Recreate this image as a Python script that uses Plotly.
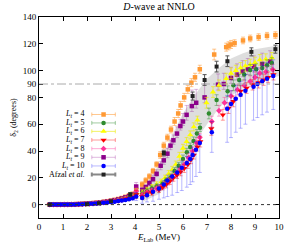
import plotly.graph_objects as go

# ---------------- data ----------------
E_low = [0.45, 0.6, 0.75, 0.9, 1.05, 1.2, 1.35, 1.5, 1.65, 1.8, 1.95, 2.1, 2.25,
         2.4, 2.55, 2.7, 2.85, 3.0, 3.15, 3.3, 3.45, 3.6, 3.75, 3.9, 4.05]
err_low = [0.2, 0.2, 0.2, 0.2, 0.2, 0.2, 0.3, 0.3, 0.3, 0.3, 0.4, 0.4, 0.4,
           0.5, 0.5, 0.5, 0.6, 0.6, 0.7, 0.7, 0.8, 0.9, 1.0, 1.2, 3.0]

# L_t = 4
d4_low = [0, 0, 0, 0.05, 0.1, 0.15, 0.2, 0.3, 0.4, 0.55, 0.7, 0.9, 1.15, 1.4, 1.75, 2.1, 2.55, 3.0, 3.55, 4.2, 4.9, 5.8, 6.8, 8.0, 11]
E4_high = [4.3, 4.45, 4.6, 4.75, 4.9, 5.05, 5.2, 5.35, 5.5, 5.65, 5.8, 5.9, 6.05, 6.2, 6.35, 6.5, 6.7, 7.3, 7.8, 7.9, 8.0, 8.15, 8.5, 8.8, 9.15, 9.5, 9.85]
d4_high = [15, 18, 21, 25, 30, 37, 44, 50, 56, 62, 68, 74, 80, 86, 91, 95, 101, 112, 117.5, 118.5, 119.5, 120.5, 122.5, 124, 125, 126, 126.5]
e4_high = [2, 2, 2, 2, 2, 2.5, 2.5, 2.5, 2.5, 3, 3, 3, 3, 3, 3, 3, 3, 4, 3, 3, 3, 2.5, 2.5, 2.5, 2.5, 2.5, 2.5]

# L_t = 5
d5_low = [0, 0, 0, 0, 0.05, 0.1, 0.15, 0.2, 0.3, 0.4, 0.55, 0.7, 0.9, 1.1, 1.35, 1.65, 1.95, 2.35, 2.75, 3.2, 3.75, 4.35, 5.0, 5.8, 8]
E5_high = [4.3, 4.5, 4.7, 4.9, 5.14, 5.3, 5.48, 5.65, 5.82, 6.0, 6.16, 6.3, 6.44, 6.58, 6.71, 7.08, 7.4, 7.86, 8.1, 8.34, 8.55, 8.8, 9.05, 9.3, 9.5, 9.7]
d5_high = [8, 10, 12, 13.5, 15.4, 18, 20.3, 25, 29, 34, 39, 43, 47.5, 53, 57.4, 68, 78, 84.6, 89, 93, 97, 100.5, 101, 102, 104, 105.6]
e5_high = [2, 2, 2, 2, 2, 2, 2.5, 2.5, 2.5, 3, 3, 3, 3, 3, 3, 4, 4, 4, 4, 4, 4, 4, 4, 4, 4, 4]

# L_t = 6
d6_low = [0, 0, 0, 0.05, 0.1, 0.1, 0.2, 0.25, 0.35, 0.45, 0.6, 0.75, 0.95, 1.2, 1.45, 1.75, 2.1, 2.5, 2.95, 3.45, 4.0, 4.7, 5.4, 6.3, 9]
E6_high = [4.3, 4.5, 4.7, 4.9, 5.1, 5.25, 5.4, 5.55, 5.7, 5.85, 6.0, 6.15, 6.3, 6.45, 6.6, 6.98, 7.25, 7.5, 7.8, 8.0, 8.2, 8.4, 8.6, 8.8, 9.0, 9.2, 9.45, 9.7]
d6_high = [9, 11, 13, 15, 17, 20, 23, 26, 30, 36, 42, 47, 52, 58, 63, 76, 84, 89, 94, 98, 100, 102, 103.5, 104.5, 106, 108, 108.5, 109.5]
e6_high = [2, 2, 2, 2, 2, 2, 2.5, 2.5, 2.5, 3, 3, 3, 3, 3, 3, 4, 4, 4, 4, 4, 4, 4, 4, 4, 4, 4, 4, 4]

# L_t = 7
d7_low = [0, 0, 0, 0, 0.05, 0.1, 0.15, 0.2, 0.3, 0.4, 0.5, 0.65, 0.8, 1.0, 1.25, 1.5, 1.8, 2.15, 2.5, 2.95, 3.4, 4.0, 4.6, 5.3, 7.5]
E7_high = [4.3, 4.5, 4.7, 5.0, 5.15, 5.3, 5.45, 5.6, 5.75, 5.9, 6.05, 6.2, 6.33, 6.45, 6.6, 6.72, 7.18, 7.66, 7.9, 8.1, 8.4, 8.65, 8.9, 9.15, 9.36, 9.55, 9.77]
d7_high = [6, 8, 9, 11, 13, 15, 17.5, 20, 22, 24.5, 27, 30, 33.5, 37, 43, 47, 56.7, 67, 72, 77, 84.6, 87, 89.5, 91, 93, 95, 97]
e7_high = [2, 2, 2, 2, 2, 2.5, 2.5, 2.5, 2.5, 3, 3, 3, 3, 3, 3, 4, 5, 4, 4, 4, 4, 4, 4, 4, 4, 4, 4]

# L_t = 8
d8_low = [0, 0, 0, 0, 0.05, 0.1, 0.15, 0.2, 0.3, 0.4, 0.5, 0.65, 0.85, 1.05, 1.3, 1.55, 1.85, 2.2, 2.6, 3.05, 3.55, 4.15, 4.8, 5.5, 10]
E8_high = [4.3, 4.5, 4.7, 4.9, 5.05, 5.2, 5.38, 5.55, 5.72, 5.89, 6.05, 6.23, 6.4, 6.57, 6.7, 7.2, 7.5, 7.73, 8.0, 8.27, 8.55, 8.8, 9.0, 9.2, 9.45, 9.74]
d8_high = [7, 9, 10.5, 12, 13, 14.5, 17, 20, 23, 26.5, 30, 35, 40, 46, 50, 62, 70, 76, 81, 85.8, 89, 92, 95, 98, 99, 100.7]
e8_high = [2, 2, 2, 2, 2, 2.5, 2.5, 2.5, 2.5, 3, 3, 3, 3, 3, 3, 4, 4, 4, 4, 4, 4, 4, 4, 4, 4, 4]

# L_t = 9
d9_low = [0, 0, 0, 0.05, 0.1, 0.15, 0.2, 0.3, 0.4, 0.5, 0.65, 0.85, 1.05, 1.3, 1.6, 1.95, 2.35, 2.8, 3.3, 3.9, 4.6, 5.4, 6.3, 7.4, 13.5]
E9_high = [4.3, 4.45, 4.6, 4.75, 4.9, 5.07, 5.2, 5.35, 5.48, 5.6, 5.75, 5.89, 6.0, 6.15, 6.37, 6.55, 6.9, 7.46, 7.7, 8.0, 8.25, 8.48, 8.7, 8.95, 9.3, 9.63]
d9_high = [11, 13, 16, 19, 23, 29, 33, 38, 44, 48, 53, 58.6, 62, 67, 73.5, 76, 80, 89.5, 90, 94.5, 97, 99.4, 101, 103, 105, 106.8]
e9_up = [2, 2, 2, 3, 3, 3, 3, 4, 4, 4, 5, 5, 6, 7, 12, 10, 10, 8, 8, 8, 8, 8, 8, 8, 8, 8]
e9_dn = [2, 2, 2, 2, 2, 3, 3, 3, 3, 3, 3, 3, 3, 4, 4, 4, 4, 4, 4, 4, 4, 4, 4, 4, 4, 4]

# L_t = 10
d10_low = [0, 0, 0, 0, 0.05, 0.1, 0.1, 0.15, 0.25, 0.35, 0.45, 0.55, 0.7, 0.85, 1.05, 1.3, 1.55, 1.85, 2.2, 2.6, 3.0, 3.5, 4.05, 4.7, 6]
E10_high = [4.3, 4.5, 4.75, 5.0, 5.2, 5.35, 5.55, 5.76, 5.95, 6.16, 6.3, 6.4, 6.54, 6.7, 7.2, 7.84, 8.0, 8.2, 8.4, 8.6, 8.94, 9.1, 9.3, 9.5, 9.76]
d10_high = [5, 7, 9.5, 12, 15, 18, 21, 24, 27.5, 31, 34, 37, 41, 46, 54, 71.5, 75, 79, 82, 85, 88, 90, 92, 94, 96]
e10_up = [2, 2, 3, 3, 3, 4, 4, 4, 5, 5, 5, 6, 6, 6, 8, 10, 10, 10, 10, 12, 12, 12, 12, 12, 12]
e10_dn = [4, 5, 7, 8, 10, 12, 14, 15, 17, 18, 19, 20, 20, 22, 15, 25, 25, 25, 25, 25, 25, 25, 25, 25, 25]

# Afzal et al.
afzal_E = [0.45, 2.0, 2.5, 3.0, 3.8, 5.2, 6.4, 6.9, 7.4, 7.85, 8.85, 9.85]
afzal_d = [0, 0.3, 1, 2.5, 7.5, 38.5, 81, 93, 103, 107, 114, 116]
afzal_err = [0.3, 0.3, 0.5, 0.7, 1.5, 2, 3, 4, 4, 4, 3, 3]

# band
band_E = [4.3, 5.0, 5.5, 6.0, 6.5, 7.0, 7.5, 8.0, 8.5, 9.0, 9.5, 10.0]
band_hi = [10, 30, 50, 68, 82, 94, 102, 109, 113, 116, 117.5, 119]
band_lo = [2, 8, 18, 32, 47, 60, 72, 81, 87, 91, 94, 96]

legend_labels = ["<i>L<sub>t</sub></i> = 4", "<i>L<sub>t</sub></i> = 5", "<i>L<sub>t</sub></i> = 6",
                 "<i>L<sub>t</sub></i> = 7", "<i>L<sub>t</sub></i> = 8", "<i>L<sub>t</sub></i> = 9",
                 "<i>L<sub>t</sub></i> = 10", "Afzal <i>et al.</i>"]
y_ticks = [0, 20, 40, 60, 80, 90, 100, 120, 140]
x_ticks = list(range(0, 11))
ref_lines = [0, 90]

# ---------------- styles ----------------
FONT = "Liberation Serif"
styles = {
    4: dict(color="#ff9933", err="rgba(255,153,51,0.55)", symbol="square", size=4.5),
    5: dict(color="#2e8b2e", err="rgba(46,139,46,0.45)", symbol="circle", size=4.5),
    6: dict(color="#ffff00", err="rgba(235,235,0,0.6)", symbol="triangle-up", size=5.5),
    7: dict(color="#ff0000", err="rgba(255,0,0,0.4)", symbol="triangle-down", size=5.5),
    8: dict(color="#ff3399", err="rgba(255,51,153,0.4)", symbol="diamond", size=4.5),
    9: dict(color="#8b008b", err="rgba(139,0,139,0.28)", symbol="square", size=4.5),
    10: dict(color="#0000ff", err="rgba(0,0,255,0.28)", symbol="circle", size=4.5),
}

series = {
    4: (E_low + E4_high, d4_low + d4_high, err_low + e4_high, err_low + e4_high),
    5: (E_low + E5_high, d5_low + d5_high, err_low + e5_high, err_low + e5_high),
    6: (E_low + E6_high, d6_low + d6_high, err_low + e6_high, err_low + e6_high),
    7: (E_low + E7_high, d7_low + d7_high, err_low + e7_high, err_low + e7_high),
    8: (E_low + E8_high, d8_low + d8_high, err_low + e8_high, err_low + e8_high),
    9: (E_low + E9_high, d9_low + d9_high, err_low + e9_up, err_low + e9_dn),
    10: (E_low + E10_high, d10_low + d10_high, err_low + e10_up, err_low + e10_dn),
}

fig = go.Figure()

# band
fig.add_trace(go.Scatter(
    x=band_E + band_E[::-1], y=band_hi + band_lo[::-1],
    fill="toself", fillcolor="rgba(200,200,200,0.6)", line=dict(width=0),
    mode="lines", hoverinfo="skip", showlegend=False))

draw_order = [4, 9, 6, 5, 8, 7, 10]
for k in draw_order:
    E, d, eu, ed = series[k]
    s = styles[k]
    fig.add_trace(go.Scatter(
        x=E, y=d, mode="markers", showlegend=False,
        marker=dict(color=s["color"], symbol=s["symbol"], size=s["size"], line=dict(width=0)),
        error_y=dict(type="data", array=eu, arrayminus=ed, symmetric=False,
                     color=s["err"], thickness=1, width=2),
        error_x=dict(type="constant", value=0.04, color=s["err"], thickness=1, width=0),
    ))

fig.add_trace(go.Scatter(
    x=afzal_E, y=afzal_d, mode="markers", showlegend=False,
    marker=dict(color="#222222", symbol="square", size=4),
    error_y=dict(type="data", array=afzal_err, color="#555555", thickness=1, width=2),
))

# reference lines
fig.add_hline(y=ref_lines[0], line=dict(color="#333333", width=1, dash="dot"))
fig.add_hline(y=ref_lines[1], line=dict(color="#aaaaaa", width=1, dash="dashdot"))

# custom legend (samples on an overlay 0..1 axis)
leg_y = [0.515, 0.473, 0.431, 0.388, 0.345, 0.302, 0.259, 0.216]
leg_x = 0.269
keys = [4, 5, 6, 7, 8, 9, 10]
for i, lab in enumerate(legend_labels):
    if i < 7:
        s = styles[keys[i]]
        col, ecol, sym, sz, th = s["color"], s["err"], s["symbol"], s["size"], 1
    else:
        col, ecol, sym, sz, th = "#222222", "#888888", "square", 4, 2
    fig.add_trace(go.Scatter(
        x=[leg_x], y=[leg_y[i]], xaxis="x2", yaxis="y2", mode="markers", showlegend=False,
        marker=dict(color=col, symbol=sym, size=sz),
        error_x=dict(type="constant", value=0.049, color=ecol, thickness=th, width=2),
        hoverinfo="skip"))
    fig.add_annotation(x=0.2, y=leg_y[i], xref="paper", yref="paper", text=lab,
                       showarrow=False, xanchor="right", yanchor="middle",
                       font=dict(family=FONT, size=8, color="black"))

axis_common = dict(showline=True, linecolor="black", linewidth=1, mirror="ticks",
                   ticks="inside", ticklen=4, tickcolor="black", showgrid=False,
                   zeroline=False, tickfont=dict(family=FONT, size=9, color="black"))

fig.update_layout(
    width=289, height=245,
    margin=dict(l=39, r=5, t=17, b=26),
    paper_bgcolor="white", plot_bgcolor="white",
    showlegend=False,
    title=dict(text="<i>D</i>-wave at NNLO", x=0.5, xref="paper", y=0.972, yref="container",
               yanchor="middle", font=dict(family=FONT, size=10, color="black")),
    xaxis=dict(range=[0, 10], tickvals=x_ticks,
               title=dict(text="<i>E</i><sub>Lab</sub> (MeV)", standoff=2,
                          font=dict(family=FONT, size=9, color="black")),
               **axis_common),
    yaxis=dict(range=[-10, 140], tickvals=y_ticks,
               title=dict(text="δ<sub>2</sub> (degrees)", standoff=4,
                          font=dict(family=FONT, size=8, color="black")),
               **axis_common),
    xaxis2=dict(overlaying="x", range=[0, 1], visible=False),
    yaxis2=dict(overlaying="y", range=[0, 1], visible=False),
)

fig.write_html("out.html", config={"displayModeBar": False},
               post_script="document.body.style.margin='0';document.body.style.padding='0';")
